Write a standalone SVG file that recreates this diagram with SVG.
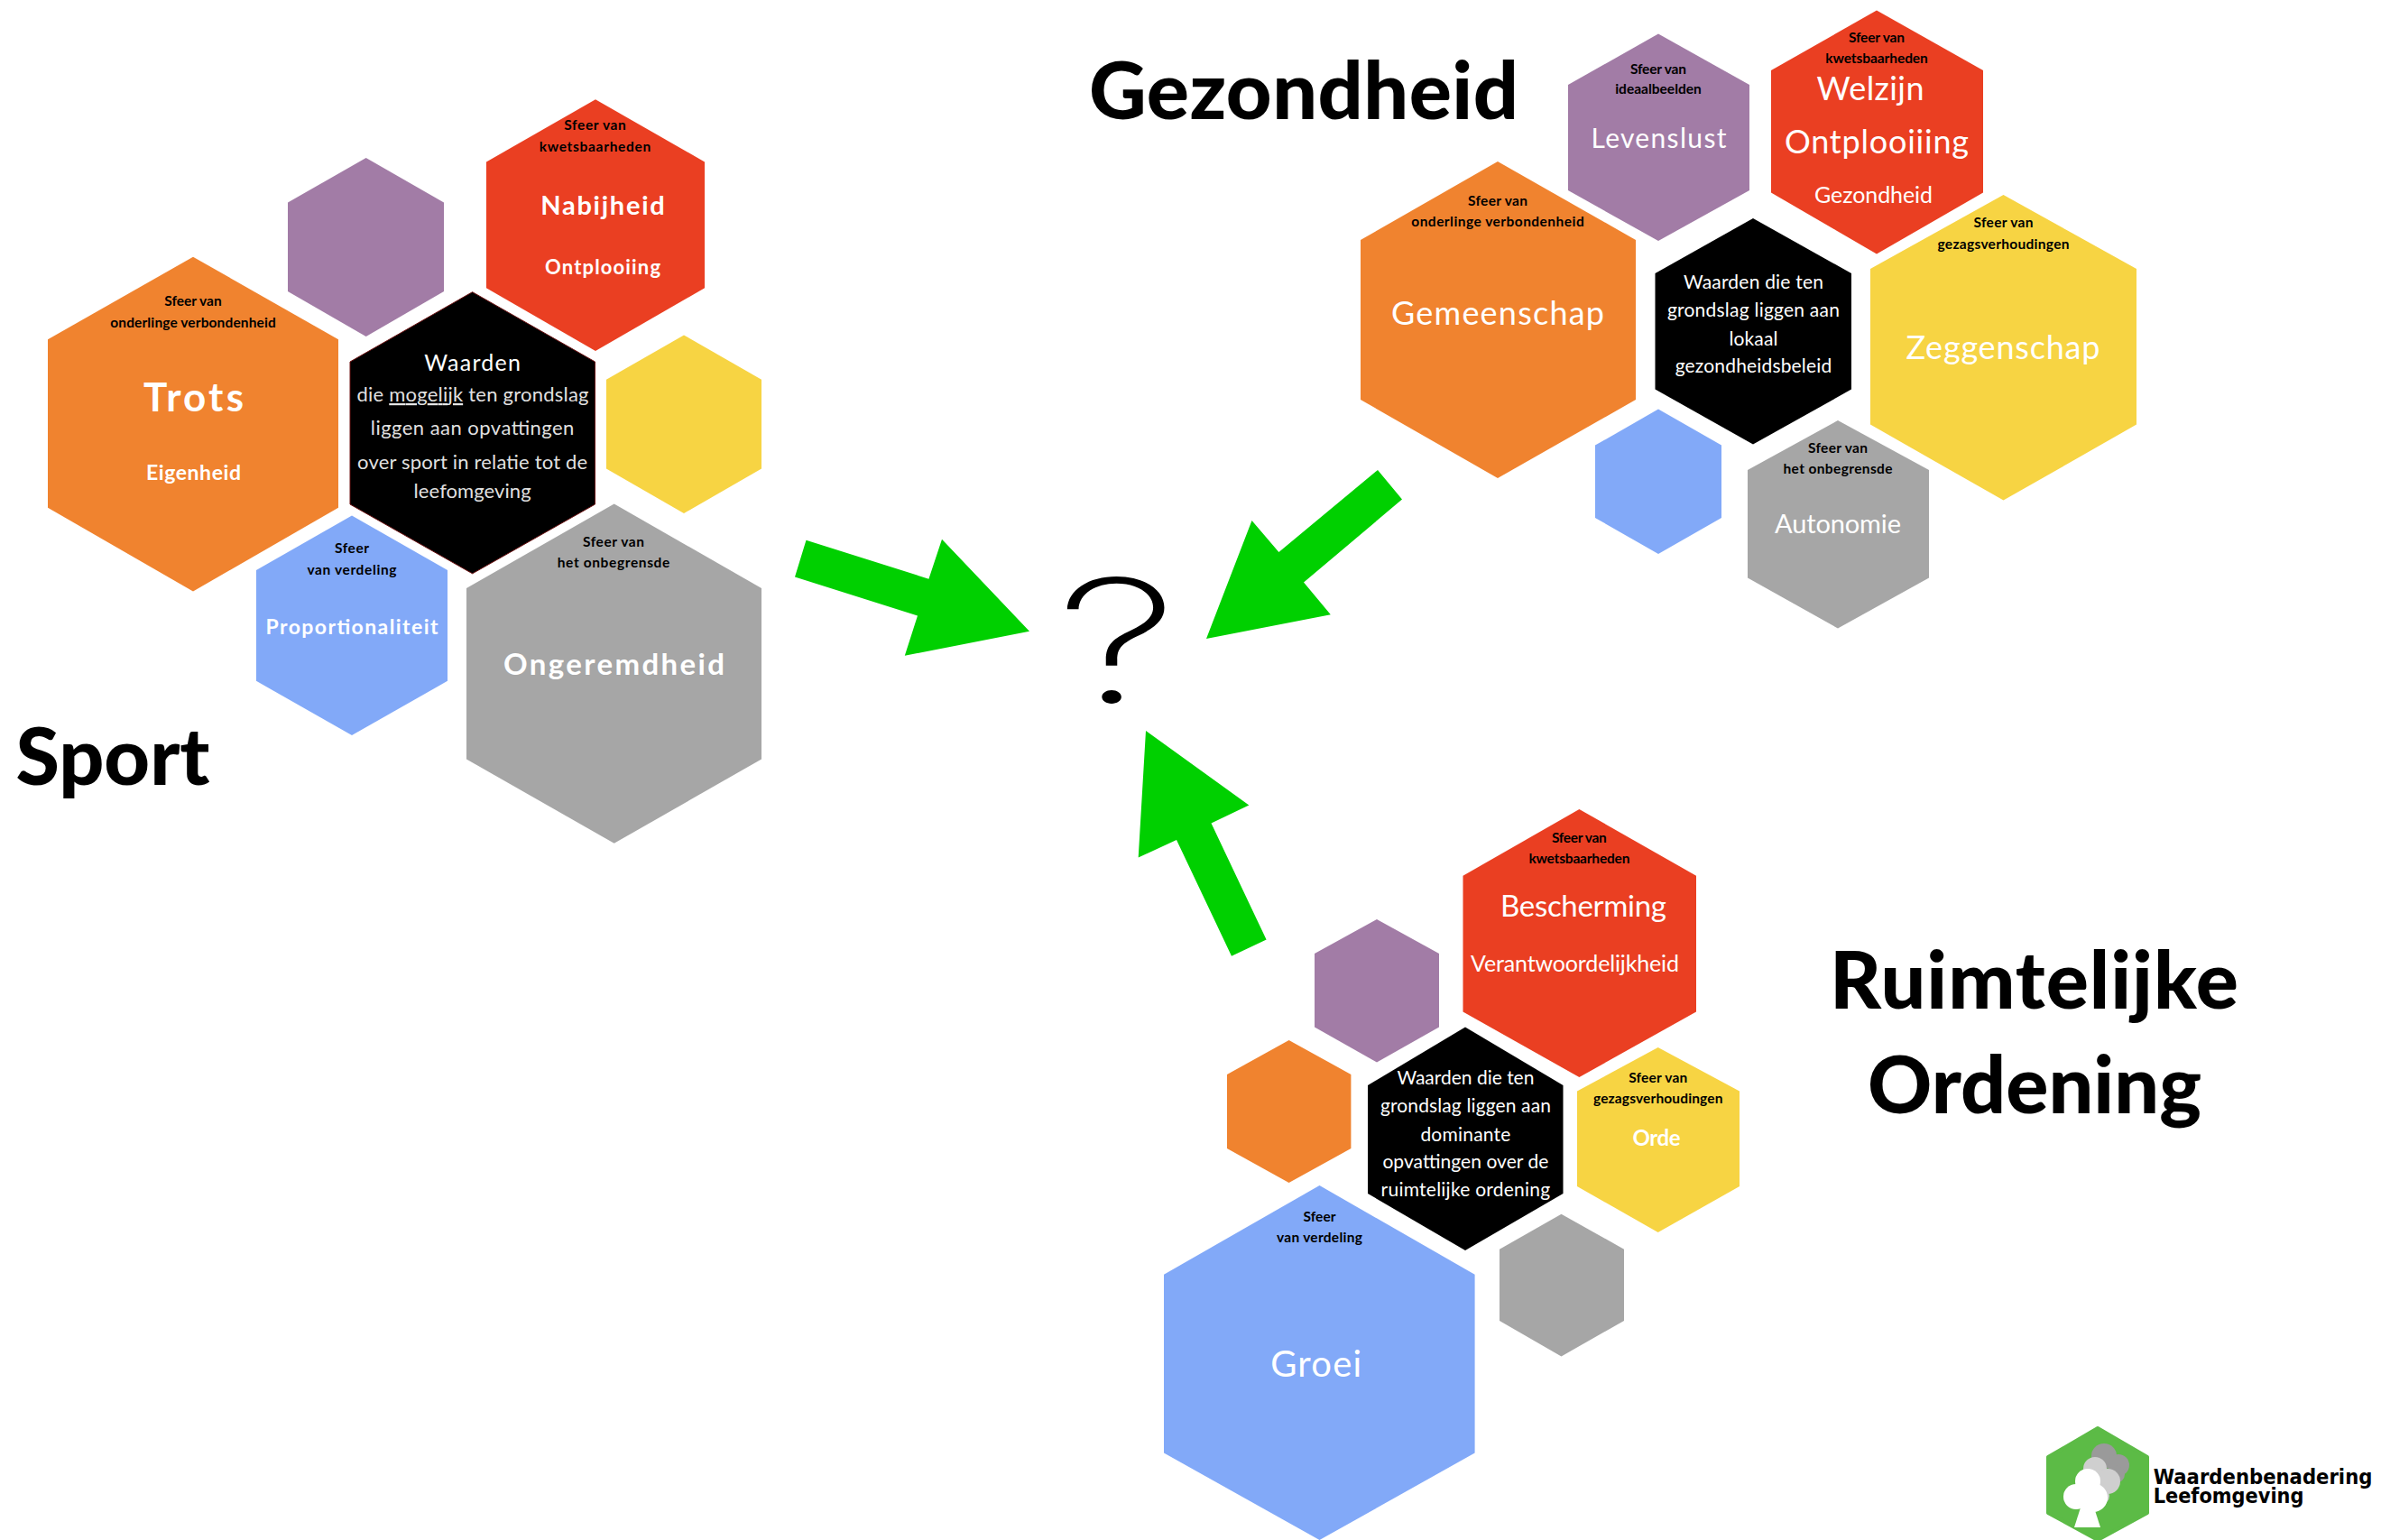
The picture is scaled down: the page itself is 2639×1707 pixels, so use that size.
<svg xmlns="http://www.w3.org/2000/svg" width="2639" height="1707" viewBox="0 0 2639 1707">
<style>
text{font-family:Lato,"Open Sans","Liberation Sans",sans-serif;text-anchor:middle;fill:#fff}
.s{font-size:15.5px;font-weight:700;fill:#000}
.t{font-size:88px;font-weight:900;fill:#000}
.b{font-weight:700}
.o{fill:#F0832F}.p{fill:#A27CA6}.r{fill:#EA3F22}.y{fill:#F7D443}.u{fill:#82A9F8}.g{fill:#A6A6A6}.k{fill:#000}
.a{fill:#00D000}
.l{font-family:"DejaVu Sans","Liberation Sans",sans-serif;font-size:23px;font-weight:700;fill:#000;text-anchor:start}
</style>
<g id="connectors">
<polygon class="a" points="893.5,598.8 881,639.5 1017,682.4 1002.8,726.8 1141,699.8 1044,597.7 1029.4,641.7"/>
<polygon class="a" points="1527,521 1554,553.6 1445,645.4 1474.8,681.3 1337,708 1387.5,577 1417.4,612"/>
<polygon class="a" points="1270,810 1384.3,892.5 1342.5,912.5 1403.6,1041.6 1365,1059.7 1304,931 1261.7,950.6"/>
</g>
<text id="question" transform="translate(1238,779) scale(1.45,1)" style="font-family:Inter,sans-serif;font-size:190px;font-weight:200;fill:#000">?</text>

<text class="t" x="125" y="870" textLength="215">Sport</text>
<text class="t" x="1445" y="132" textLength="476">Gezondheid</text>
<text class="t" x="2254.5" y="1118" textLength="453">Ruimtelijke</text>
<text class="t" x="2255" y="1234" textLength="370">Ordening</text>

<g id="sport-kwetsbaarheden"><polygon class="r" points="660,110.3 781,179.4 781,319.3 660,389 539,319.3 539,179.4"/>
<text class="s" x="659.5" y="143.8" textLength="68.5">Sfeer van</text><text class="s" x="659.5" y="167.9" textLength="123.5">kwetsbaarheden</text>
<text class="b" x="668" y="238" font-size="29" textLength="137.5">Nabijheid</text><text class="b" x="668" y="304" font-size="22" textLength="128">Ontplooiing</text></g>
<g id="sport-ideaal"><polygon class="p" points="405.7,175 492,224.4 492,323 405.7,373 319,323 319,224.4"/></g>
<g id="sport-verbondenheid"><polygon class="o" points="214,284.7 375,376.3 375,562.8 214,655.5 53,562.8 53,376.3"/>
<text class="s" x="214" y="339" textLength="63.4">Sfeer van</text><text class="s" x="214" y="362.6" textLength="183.5">onderlinge verbondenheid</text>
<text class="b" x="214.5" y="455.9" font-size="44" textLength="111">Trots</text><text class="b" x="214.5" y="532" font-size="23" textLength="105">Eigenheid</text></g>
<g id="sport-waarden"><polygon class="k" stroke="#6b1010" stroke-width="1" points="523.6,323.7 659.5,401 659.5,559 523.6,635.8 388,559 388,401"/>
<text x="523.6" y="411" font-size="25" textLength="106.6">Waarden</text>
<text x="524" y="445" font-size="22" textLength="257" fill-opacity=".9">die <tspan text-decoration="underline" fill="#fff">mogelijk</tspan> ten grondslag</text>
<text x="523.6" y="482" font-size="22" textLength="225.6" fill-opacity=".9">liggen aan  opvattingen</text>
<text x="523.6" y="519.5" font-size="22" textLength="255" fill-opacity=".9">over sport in relatie tot de</text>
<text x="523.6" y="552" font-size="22" textLength="130" fill-opacity=".9">leefomgeving</text></g>
<g id="sport-gezag"><polygon class="y" points="758,371.4 844,420.8 844,519.5 758,569 672,519.5 672,420.8"/></g>
<g id="sport-verdeling"><polygon class="u" points="390,571.6 496,632 496,754.8 390,815 284,754.8 284,632"/>
<text class="s" x="390" y="612.8" textLength="38">Sfeer</text><text class="s" x="390" y="637" textLength="99">van verdeling</text>
<text class="b" x="390" y="703" font-size="23" textLength="191">Proportionaliteit</text></g>
<g id="sport-onbegrensde"><polygon class="g" points="680.7,558.5 844,652 844,841.5 680.7,934.8 517,841.5 517,652"/>
<text class="s" x="680" y="605.6" textLength="68">Sfeer van</text><text class="s" x="680" y="629" textLength="124.6">het onbegrensde</text>
<text class="b" x="680.5" y="748" font-size="33" textLength="245">Ongeremdheid</text></g>

<g id="gez-ideaal"><polygon class="p" points="1838,37.6 1939,94 1939,211 1838,267 1738,211 1738,94"/>
<text class="s" x="1838" y="81.7" textLength="62">Sfeer van</text><text class="s" x="1838" y="104" textLength="95.7">ideaalbeelden</text>
<text x="1838.5" y="164.4" font-size="30" textLength="150">Levenslust</text></g>
<g id="gez-kwetsbaarheden"><polygon class="r" points="2080,11.5 2198,78 2198,213.5 2080,281.5 1963,213.5 1963,78"/>
<text class="s" x="2080" y="46.8" textLength="62">Sfeer van</text><text class="s" x="2080" y="69.8" textLength="113.6">kwetsbaarheden</text>
<text x="2073" y="111" font-size="36" textLength="119">Welzijn</text><text x="2080" y="170" font-size="36" textLength="204">Ontplooiiing</text>
<text x="2076.5" y="225" font-size="25" textLength="131">Gezondheid</text></g>
<g id="gez-verbondenheid"><polygon class="o" points="1660,179 1813,266 1813,443 1660,530 1508,443 1508,266"/>
<text class="s" x="1660" y="228" textLength="66">Sfeer van</text><text class="s" x="1660" y="251" textLength="191.4">onderlinge verbondenheid</text>
<text x="1660" y="360" font-size="36" textLength="236">Gemeenschap</text></g>
<g id="gez-waarden"><polygon class="k" points="1943,242 2052,303 2052,431.6 1943,492.6 1834.5,431.6 1834.5,303"/>
<text x="1943.4" y="320" font-size="21" textLength="155">Waarden die ten</text>
<text x="1943.4" y="351" font-size="21" textLength="191">grondslag liggen aan</text>
<text x="1943.4" y="382.5" font-size="21" textLength="54">lokaal</text>
<text x="1943.4" y="413" font-size="21" textLength="173.5">gezondheidsbeleid</text></g>
<g id="gez-gezag"><polygon class="y" points="2220.5,216 2368,298 2368,470.6 2220.5,554.6 2073,470.6 2073,298"/>
<text class="s" x="2220.5" y="252" textLength="66">Sfeer van</text><text class="s" x="2220.5" y="275.5" textLength="146">gezagsverhoudingen</text>
<text x="2220" y="398" font-size="36" textLength="215">Zeggenschap</text></g>
<g id="gez-verdeling"><polygon class="u" points="1838,453.6 1908,493.6 1908,574 1838,614 1768,574 1768,493.6"/></g>
<g id="gez-onbegrensde"><polygon class="g" points="2037,466 2138,521 2138,640.5 2037,696.5 1937,640.5 1937,521"/>
<text class="s" x="2037" y="502" textLength="66">Sfeer van</text><text class="s" x="2037" y="525" textLength="121">het onbegrensde</text>
<text x="2037" y="591" font-size="29" textLength="140">Autonomie</text></g>

<g id="ro-kwetsbaarheden"><polygon class="r" points="1750.4,897 1880,970.7 1880,1121.6 1750.4,1194 1621.5,1121.6 1621.5,970.7"/>
<text class="s" x="1750.4" y="934" textLength="60.6">Sfeer van</text><text class="s" x="1750.4" y="957" textLength="112">kwetsbaarheden</text>
<text x="1755" y="1015.5" font-size="33" textLength="184">Bescherming</text><text x="1745.5" y="1076.7" font-size="25" textLength="231">Verantwoordelijkheid</text></g>
<g id="ro-ideaal"><polygon class="p" points="1526,1019 1595,1057 1595,1138.4 1526,1177.5 1457,1138.4 1457,1057"/></g>
<g id="ro-verbondenheid"><polygon class="o" points="1428.6,1153 1497.4,1191 1497.4,1273 1428.6,1311 1360,1273 1360,1191"/></g>
<g id="ro-waarden"><polygon class="k" points="1624,1138.4 1732.5,1203 1732.5,1323 1624,1386 1516,1323 1516,1203"/>
<text x="1624.4" y="1202" font-size="21" textLength="152">Waarden die ten</text>
<text x="1624.4" y="1233.4" font-size="21" textLength="189">grondslag liggen aan</text>
<text x="1624.4" y="1264.5" font-size="21" textLength="100">dominante</text>
<text x="1624.4" y="1295" font-size="21" textLength="184">opvattingen over de</text>
<text x="1624.4" y="1326" font-size="21" textLength="187.6">ruimtelijke ordening</text></g>
<g id="ro-gezag"><polygon class="y" points="1837.7,1161 1928,1209.6 1928,1315 1837.7,1366 1748,1315 1748,1209.6"/>
<text class="s" x="1837.7" y="1200" textLength="65">Sfeer van</text><text class="s" x="1837.7" y="1223" textLength="143.5">gezagsverhoudingen</text>
<text class="b" x="1836" y="1270" font-size="24" textLength="53">Orde</text></g>
<g id="ro-onbegrensde"><polygon class="g" points="1730.5,1345.7 1800,1384.7 1800,1464 1730.5,1503.4 1662,1464 1662,1384.7"/></g>
<g id="ro-verdeling"><polygon class="u" points="1462.5,1314 1634.6,1412.7 1634.6,1610.5 1462.5,1707 1290,1610.5 1290,1412.7"/>
<text class="s" x="1462.5" y="1354" textLength="36">Sfeer</text><text class="s" x="1462.5" y="1377" textLength="95">van verdeling</text>
<text x="1458.7" y="1526" font-size="40" textLength="101">Groei</text></g>

<g id="logo">
<polygon fill="#5CBB46" stroke="#5CBB46" stroke-width="4" stroke-linejoin="round" points="2325,1583 2380,1615 2380,1677 2325,1707 2270,1677 2270,1615"/>
<circle cx="2332" cy="1614" r="14" fill="#9a9a9a"/><circle cx="2348" cy="1624" r="12" fill="#9a9a9a"/><circle cx="2345" cy="1634" r="10" fill="#9a9a9a"/>
<circle cx="2322" cy="1628" r="13" fill="#cfcfcf"/><circle cx="2336" cy="1642" r="14" fill="#cfcfcf"/><circle cx="2328" cy="1658" r="10" fill="#cfcfcf"/>
<circle cx="2314" cy="1642" r="14" fill="#fff"/><circle cx="2301" cy="1659" r="14" fill="#fff"/><circle cx="2320" cy="1660" r="16" fill="#fff"/>
<polygon fill="#fff" points="2299,1693 2328,1693 2320,1668 2307,1668"/>
<text class="l" x="2386.7" y="1645" textLength="242.7" lengthAdjust="spacingAndGlyphs">Waardenbenadering</text>
<text class="l" x="2386.7" y="1666" textLength="166.7" lengthAdjust="spacingAndGlyphs">Leefomgeving</text>
</g>
</svg>
